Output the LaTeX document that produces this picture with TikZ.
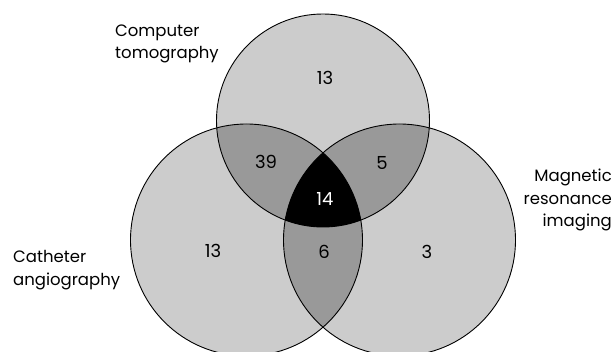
\documentclass[tikz,border=0pt]{standalone}
\usepackage{fontspec}
\setmainfont{Poppins}
\begin{document}
\begin{tikzpicture}[x=1pt,y=-1pt,
  lbl/.style={font=\fontsize{16.5}{22.5}\selectfont, inner sep=0pt},
  num/.style={font=\fontsize{18}{20}\selectfont, inner sep=0pt},
  ring/.style={draw=black, line width=0.9pt}]
\useasboundingbox (0,0) rectangle (613,352);
\def\ctc{(323,120.5) circle[radius=106.5]}
\def\cca{(246.5,240) circle[radius=116]}
\def\cmr{(399.5,240) circle[radius=116]}
\fill[gray!40!white] \ctc;
\fill[gray!40!white] \cca;
\fill[gray!40!white] \cmr;
\begin{scope}\clip \ctc; \fill[gray!80!white] \cca; \fill[gray!80!white] \cmr; \end{scope}
\begin{scope}\clip \cca; \fill[gray!80!white] \cmr; \end{scope}
\begin{scope}\clip \ctc; \clip \cca; \fill[black] \cmr; \end{scope}
\draw[ring] \ctc; \draw[ring] \cca; \draw[ring] \cmr;
\node[num] (n1) at (325,78) {13};
\node[num] (n2) at (266,162) {39};
\node[num] (n3) at (382,163) {5};
\node[num,text=white] (n4) at (325,199) {14};
\node[num] (n5) at (213,251) {13};
\node[num] (n6) at (324,252) {6};
\node[num] (n7) at (427,252) {3};
\node[lbl,anchor=west,align=left] (ct) at (115,44) {Computer\\tomography};
\node[lbl,anchor=west,align=left] (ca) at (13,270) {Catheter\\angiography};
\node[lbl,anchor=east,align=right] (mr) at (612,200) {Magnetic\\resonance\\imaging};
\end{tikzpicture}
\end{document}
